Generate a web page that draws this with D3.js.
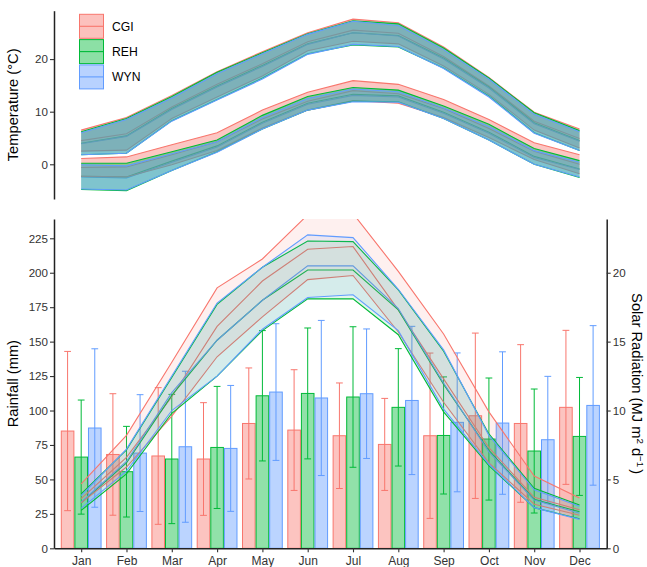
<!DOCTYPE html>
<html>
<head>
<meta charset="utf-8">
<script src="https://cdn.jsdelivr.net/npm/d3@7"></script>
<style>
  body { margin: 0; background: #fff; }
  text { font-family: "Liberation Sans", Arial, Helvetica, sans-serif; }
</style>
</head>
<body>
<svg id="chart" width="647" height="567"></svg>
<script>
// ---- data -------------------------------------------------------------
const months = ["Jan","Feb","Mar","Apr","May","Jun","Jul","Aug","Sep","Oct","Nov","Dec"];
const stations = ["CGI","REH","WYN"];
const stationColors = ["#F8766D","#00BA38","#619CFF"];

// monthly maximum temperature (°C): mean and standard deviation
const tmaxMeanCGI = [4.5, 5.8, 10.9, 15.2, 19.1, 23.3, 25.5, 24.9, 20.5, 14.9, 8.2, 4.9];
const tmaxSdCGI   = [2.0, 3.1, 2.2, 2.4, 2.3, 1.7, 2.1, 2.0, 1.8, 1.6, 1.7, 1.8];
const tmaxMeanREH = [4.0, 5.4, 10.6, 14.9, 18.8, 22.9, 25.0, 24.5, 20.2, 14.7, 7.9, 4.5];
const tmaxSdREH   = [2.2, 3.3, 2.3, 2.6, 2.4, 1.9, 2.3, 2.2, 1.9, 1.7, 1.9, 1.9];
const tmaxMeanWYN = [3.9, 5.3, 10.4, 14.7, 18.6, 22.8, 25.0, 24.4, 20.0, 14.5, 7.7, 4.4];
const tmaxSdWYN   = [2.1, 3.2, 2.2, 2.5, 2.4, 1.9, 2.2, 2.0, 1.8, 1.7, 1.8, 1.8];

// monthly minimum temperature (°C): mean and standard deviation
const tminMeanCGI = [-0.6, -0.5, 1.8, 4.3, 8.6, 12.0, 14.0, 13.4, 10.6, 6.8, 2.5, 0.0];
const tminSdCGI   = [1.7, 1.9, 1.9, 1.7, 1.7, 1.7, 1.9, 1.8, 1.7, 1.7, 1.6, 1.8];
const tminMeanREH = [-2.3, -2.4, 0.6, 3.5, 8.0, 11.6, 13.3, 13.0, 9.9, 6.1, 1.5, -0.9];
const tminSdREH   = [2.5, 2.6, 1.8, 1.1, 1.3, 1.3, 1.3, 1.1, 1.2, 1.5, 1.5, 1.6];
const tminMeanWYN = [-2.4, -2.6, 0.4, 3.3, 7.8, 11.4, 13.1, 12.8, 9.7, 5.9, 1.3, -1.0];
const tminSdWYN   = [2.3, 2.3, 1.6, 1.0, 1.1, 1.1, 1.2, 1.0, 1.0, 1.3, 1.3, 1.4];

// monthly rainfall (mm): mean and standard deviation
const rainMeanCGI = [85.1, 68.1, 67.0, 64.8, 90.6, 85.8, 81.7, 75.4, 81.7, 96.2, 90.6, 102.3];
const rainSdCGI   = [57.8, 44.1, 49.6, 40.9, 40.3, 43.8, 38.3, 33.4, 60.0, 60.0, 57.2, 55.9];
const rainMeanREH = [66.2, 55.6, 64.8, 73.2, 110.7, 112.4, 109.8, 102.3, 81.9, 79.3, 70.6, 81.2];
const rainSdREH   = [41.4, 32.9, 46.9, 44.3, 47.3, 47.5, 51.0, 42.6, 42.5, 44.3, 45.0, 42.8];
const rainMeanWYN = [87.3, 69.1, 73.7, 72.5, 113.4, 109.1, 112.2, 107.3, 91.4, 90.9, 78.8, 103.7];
const rainSdWYN   = [57.5, 42.4, 54.8, 45.7, 49.6, 56.3, 47.0, 53.8, 50.4, 51.7, 46.0, 57.9];

// monthly solar radiation (MJ m-2 d-1): lower bound, mean, upper bound
const solarLoCGI  = [3.3, 5.9, 9.6, 13.9, 16.8, 19.5, 19.8, 15.7, 10.6, 6.2, 3.2, 2.4];
const solarMidCGI = [3.6, 6.6, 11.0, 16.1, 19.4, 21.7, 21.9, 17.3, 12.3, 7.3, 3.7, 2.8];
const solarHiCGI  = [4.67, 8.2, 13.5, 18.9, 21.0, 24.2, 24.3, 20.1, 15.55, 9.9, 5.25, 3.65];
const solarLoREH  = [2.75, 5.4, 9.8, 12.5, 15.8, 18.1, 18.1, 15.5, 9.9, 6.0, 2.95, 2.15];
const solarMidREH = [3.3, 6.2, 11.1, 15.1, 18.0, 20.2, 20.2, 17.3, 11.9, 7.1, 3.55, 2.65];
const solarHiREH  = [3.95, 7.15, 12.4, 17.7, 20.4, 22.3, 22.26, 18.75, 14.3, 8.3, 4.35, 3.15];
const solarLoWYN  = [2.9, 5.6, 10.0, 12.5, 15.9, 18.2, 18.4, 15.8, 10.1, 6.1, 2.95, 2.1];
const solarMidWYN = [3.35, 6.3, 11.3, 15.1, 18.0, 20.5, 20.5, 17.4, 12.0, 7.0, 3.5, 2.55];
const solarHiWYN  = [3.83, 7.2, 12.5, 17.8, 20.4, 22.75, 22.55, 18.8, 14.4, 8.2, 4.25, 3.05];

const tempTicks  = [0, 10, 20];
const rainTicks  = [0, 25, 50, 75, 100, 125, 150, 175, 200, 225];
const solarTicks = [0, 5, 10, 15, 20];

// ---- tables built from the arrays ------------------------------------
const tempSeries = [
  { station: "CGI", tmax: { mean: tmaxMeanCGI, sd: tmaxSdCGI }, tmin: { mean: tminMeanCGI, sd: tminSdCGI } },
  { station: "REH", tmax: { mean: tmaxMeanREH, sd: tmaxSdREH }, tmin: { mean: tminMeanREH, sd: tminSdREH } },
  { station: "WYN", tmax: { mean: tmaxMeanWYN, sd: tmaxSdWYN }, tmin: { mean: tminMeanWYN, sd: tminSdWYN } }
];
const rainSeries = [
  { station: "CGI", mean: rainMeanCGI, sd: rainSdCGI },
  { station: "REH", mean: rainMeanREH, sd: rainSdREH },
  { station: "WYN", mean: rainMeanWYN, sd: rainSdWYN }
];
const solarSeries = [
  { station: "CGI", lo: solarLoCGI, mid: solarMidCGI, hi: solarHiCGI },
  { station: "REH", lo: solarLoREH, mid: solarMidREH, hi: solarHiREH },
  { station: "WYN", lo: solarLoWYN, mid: solarMidWYN, hi: solarHiWYN }
];
const colorOf = d3.scaleOrdinal().domain(stations).range(stationColors);

// ---- layout & scales ---------------------------------------------------
const svg = d3.select("#chart");
const plotLeft = 54, plotRight = 606.7;
const topPanel = { top: 10.7, bottom: 199 };
const botPanel = { top: 219, bottom: 548.3 };

const x = d3.scalePoint().domain(months).range([plotLeft, plotRight]).padding(0.6);
const step = x.step();
const dodge = d3.scaleBand().domain(stations).range([-0.45 * step, 0.45 * step]);

const yTemp  = d3.scaleLinear().domain([-6.6, 29.2]).range([topPanel.bottom, topPanel.top]);
const yRain  = d3.scaleLinear().domain([0, 239]).range([botPanel.bottom, botPanel.top]);
const ySolar = d3.scaleLinear().domain([0, 23.9]).range([botPanel.bottom, botPanel.top]);

const lineW = 1.1;

// ---- temperature panel -------------------------------------------------
const gTop = svg.append("g");
const tLine = d3.line().x((d, i) => x(months[i])).y(d => yTemp(d));
const tArea = d3.area().x((d, i) => x(months[i])).y0(d => yTemp(d[0])).y1(d => yTemp(d[1]));

// mean lines sit underneath the ribbons
tempSeries.forEach(s => {
  ["tmax", "tmin"].forEach(k => {
    gTop.append("path").attr("d", tLine(s[k].mean))
      .attr("fill", "none").attr("stroke", colorOf(s.station)).attr("stroke-width", lineW);
  });
});
tempSeries.forEach(s => {
  ["tmax", "tmin"].forEach(k => {
    const lo = s[k].mean.map((m, i) => m - s[k].sd[i]);
    const hi = s[k].mean.map((m, i) => m + s[k].sd[i]);
    const c = colorOf(s.station);
    gTop.append("path").attr("d", tArea(lo.map((v, i) => [v, hi[i]])))
      .attr("fill", c).attr("fill-opacity", 0.42).attr("stroke", "none");
    [lo, hi].forEach(edge => gTop.append("path").attr("d", tLine(edge))
      .attr("fill", "none").attr("stroke", c).attr("stroke-width", lineW));
  });
});

// ---- rainfall + solar panel -------------------------------------------
svg.append("defs").append("clipPath").attr("id", "botClip")
  .append("rect").attr("x", plotLeft).attr("y", botPanel.top)
  .attr("width", plotRight - plotLeft).attr("height", botPanel.bottom - botPanel.top);

const gBot = svg.append("g").attr("clip-path", "url(#botClip)");

// bars
rainSeries.forEach(s => {
  const c = colorOf(s.station);
  gBot.append("g").selectAll("rect").data(s.mean).join("rect")
    .attr("x", (d, i) => x(months[i]) + dodge(s.station) + 0.5)
    .attr("width", dodge.bandwidth() - 1)
    .attr("y", d => yRain(d))
    .attr("height", d => yRain(0) - yRain(d))
    .attr("fill", c).attr("fill-opacity", 0.43)
    .attr("stroke", c).attr("stroke-width", 1);
});
// error bars (mean ± sd)
const capW = dodge.bandwidth() * 0.25;
rainSeries.forEach(s => {
  const c = colorOf(s.station);
  const g = gBot.append("g").attr("stroke", c).attr("stroke-width", 1).attr("fill", "none");
  s.mean.forEach((m, i) => {
    const cx = x(months[i]) + dodge(s.station) + dodge.bandwidth() / 2;
    const y1 = yRain(m + s.sd[i]), y0 = yRain(m - s.sd[i]);
    g.append("line").attr("x1", cx).attr("x2", cx).attr("y1", y1).attr("y2", y0);
    g.append("line").attr("x1", cx - capW).attr("x2", cx + capW).attr("y1", y1).attr("y2", y1);
    g.append("line").attr("x1", cx - capW).attr("x2", cx + capW).attr("y1", y0).attr("y2", y0);
  });
});

// solar radiation ribbons
const sLine = d3.line().x((d, i) => x(months[i])).y(d => ySolar(d));
const sArea = d3.area().x((d, i) => x(months[i])).y0(d => ySolar(d[0])).y1(d => ySolar(d[1]));
solarSeries.forEach(s => {
  gBot.append("path").attr("d", sLine(s.mid))
    .attr("fill", "none").attr("stroke", colorOf(s.station)).attr("stroke-width", lineW);
});
solarSeries.forEach(s => {
  const c = colorOf(s.station);
  gBot.append("path").attr("d", sArea(s.lo.map((v, i) => [v, s.hi[i]])))
    .attr("fill", c).attr("fill-opacity", 0.11).attr("stroke", "none");
  [s.lo, s.hi].forEach(edge => gBot.append("path").attr("d", sLine(edge))
    .attr("fill", "none").attr("stroke", c).attr("stroke-width", lineW));
});

// ---- axes --------------------------------------------------------------
function styleAxis(g, fontSize) {
  g.select(".domain").attr("stroke", "#222").attr("stroke-width", 1.5);
  g.selectAll(".tick line").attr("stroke", "#333").attr("stroke-width", 1.1);
  g.selectAll(".tick text").attr("fill", "#333").attr("font-size", fontSize)
    .attr("font-family", '"Liberation Sans", Arial, sans-serif');
}
svg.append("g").attr("transform", `translate(${plotLeft},0)`)
  .call(d3.axisLeft(yTemp).tickValues(tempTicks).tickSize(4).tickPadding(2).tickSizeOuter(0))
  .call(g => styleAxis(g, 11.6));
svg.append("g").attr("transform", `translate(${plotLeft},0)`)
  .call(d3.axisLeft(yRain).tickValues(rainTicks).tickSize(4).tickPadding(2).tickSizeOuter(0))
  .call(g => styleAxis(g, 11.6));
svg.append("g").attr("transform", `translate(${plotRight},0)`)
  .call(d3.axisRight(ySolar).tickValues(solarTicks).tickSize(4).tickPadding(2).tickSizeOuter(0))
  .call(g => styleAxis(g, 11.6));
svg.append("g").attr("transform", `translate(0,${botPanel.bottom})`)
  .call(d3.axisBottom(x).tickSize(4).tickPadding(4.5).tickSizeOuter(0))
  .call(g => styleAxis(g, 12));

// ---- axis titles -------------------------------------------------------
const titleSize = 14.7;
svg.append("text").attr("transform", `translate(18,${(topPanel.top + topPanel.bottom) / 2}) rotate(-90)`)
  .attr("text-anchor", "middle").attr("font-size", titleSize).attr("fill", "#000")
  .text("Temperature (°C)");
svg.append("text").attr("transform", `translate(18,${(botPanel.top + botPanel.bottom) / 2}) rotate(-90)`)
  .attr("text-anchor", "middle").attr("font-size", titleSize).attr("fill", "#000")
  .text("Rainfall (mm)");
const rt = svg.append("text")
  .attr("transform", `translate(632,${(botPanel.top + botPanel.bottom) / 2}) rotate(90)`)
  .attr("text-anchor", "middle").attr("font-size", titleSize).attr("fill", "#000");
rt.append("tspan").text("Solar Radiation (MJ m");
rt.append("tspan").attr("font-size", 9.8).attr("dy", -4.6).text("2");
rt.append("tspan").attr("dy", 4.6).text(" d");
rt.append("tspan").attr("font-size", 9.8).attr("dy", -4.6).text("−1");
rt.append("tspan").attr("dy", 4.6).attr("dx", 2).text(")");

// ---- legend ------------------------------------------------------------
const leg = svg.append("g");
stations.forEach((s, i) => {
  const y0 = 14.3 + i * 25.3, c = colorOf(s);
  leg.append("rect").attr("x", 79.5).attr("y", y0).attr("width", 24).attr("height", 24)
    .attr("fill", c).attr("fill-opacity", 0.45).attr("stroke", c).attr("stroke-width", 1);
  leg.append("line").attr("x1", 79.5).attr("x2", 103.5).attr("y1", y0 + 12).attr("y2", y0 + 12)
    .attr("stroke", c).attr("stroke-width", lineW);
  leg.append("text").attr("x", 112).attr("y", y0 + 12).attr("dy", "0.36em")
    .attr("font-size", 12.2).attr("fill", "#000").text(s);
});
</script>
</body>
</html>
